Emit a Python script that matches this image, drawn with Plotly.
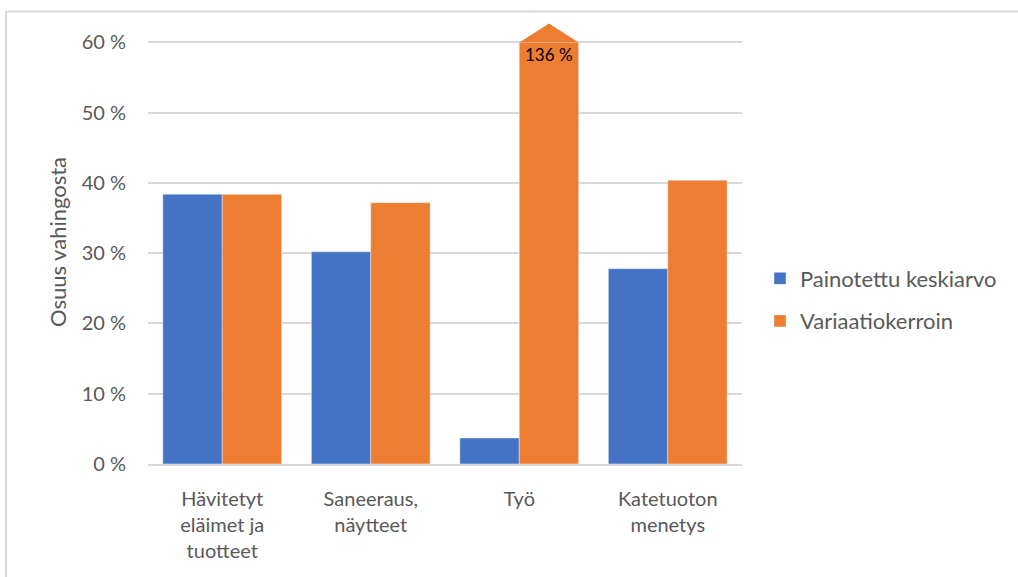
import plotly.graph_objects as go

categories = ["Hävitetyt<br>eläimet ja<br>tuotteet", "Saneeraus,<br>näytteet", "Työ", "Katetuoton<br>menetys"]
weighted_mean = [38.4, 30.2, 3.7, 27.8]
variation_coef = [38.4, 37.2, 136.0, 40.4]
series_names = ["Painotettu keskiarvo", "Variaatiokerroin"]
y_ticks = [0, 10, 20, 30, 40, 50, 60]
y_tick_labels = ["0 %", "10 %", "20 %", "30 %", "40 %", "50 %", "60 %"]

AXIS_CAP = 60.0       # bars beyond this are truncated and shown with an arrow
ARROW_TIP = 62.7
Y_MAX = 63.2

BLUE = "#4472C4"
ORANGE = "#ED7D31"
TEXT = "#595959"
GRID = "#D9D9D9"
FONT = "Lato, 'Open Sans', sans-serif"

W, H = 1018, 577
ML, MR, MT, MB = 148, 276, 20, 113

BARGAP = 0.2
bar_w = (1 - BARGAP) / 2

xs = list(range(len(categories)))
fig = go.Figure()
fig.add_trace(go.Bar(x=xs, y=weighted_mean, name=series_names[0], marker_color=BLUE,
                     legendgroup="a", hoverinfo="x+y"))
fig.add_trace(go.Bar(x=xs, y=[min(v, AXIS_CAP) for v in variation_coef], name=series_names[1],
                     marker_color=ORANGE, legendgroup="b",
                     customdata=variation_coef, hovertemplate="%{customdata} %<extra></extra>"))

# arrow heads for truncated bars
for i, v in enumerate(variation_coef):
    if v > AXIS_CAP:
        x0 = i
        x1 = i + bar_w
        fig.add_trace(go.Scatter(x=[x0, (x0 + x1) / 2, x1, x0], y=[AXIS_CAP, ARROW_TIP, AXIS_CAP, AXIS_CAP],
                                 fill="toself", fillcolor=ORANGE, mode="lines",
                                 line=dict(width=0, color=ORANGE), showlegend=False, hoverinfo="skip"))
        fig.add_annotation(x=(x0 + x1) / 2, y=AXIS_CAP, yanchor="top", yshift=0,
                           text=f"{v:.0f} %", showarrow=False,
                           font=dict(family=FONT, size=17, color="#000000"))

pw = W - ML - MR
ph = H - MT - MB
def px_x(p):
    return (p - ML) / pw
def px_y(p):
    return (H - MB - p) / ph

# outer frame lines (top and left)
fig.add_shape(type="line", xref="paper", yref="paper", x0=px_x(6), x1=px_x(W + 5), y0=px_y(11.5), y1=px_y(11.5),
              line=dict(color=GRID, width=2))
fig.add_shape(type="line", xref="paper", yref="paper", x0=px_x(6), x1=px_x(6), y0=px_y(11.5), y1=px_y(H + 5),
              line=dict(color=GRID, width=2))

fig.update_layout(
    width=W, height=H,
    margin=dict(l=ML, r=MR, t=MT, b=MB),
    paper_bgcolor="white", plot_bgcolor="white",
    barmode="group", bargap=BARGAP, bargroupgap=0,
    font=dict(family=FONT, color=TEXT, size=20),
    showlegend=True,
    legend=dict(x=px_x(760), y=px_y(300), xanchor="left", yanchor="middle",
                font=dict(family=FONT, size=22, color=TEXT),
                traceorder="grouped", tracegroupgap=11, bgcolor="rgba(0,0,0,0)"),
    xaxis=dict(range=[-0.5, len(categories) - 0.5], tickmode="array", tickvals=xs, ticktext=categories,
               showgrid=False, zeroline=False, showline=True, linecolor=GRID, linewidth=1.5,
               ticks="", tickfont=dict(family=FONT, size=20, color=TEXT), ticklabelstandoff=16,
               fixedrange=True),
    yaxis=dict(range=[0, Y_MAX], tickmode="array", tickvals=y_ticks, ticktext=y_tick_labels,
               showgrid=True, gridcolor=GRID, gridwidth=1.5, zeroline=False, showline=False,
               ticks="", tickfont=dict(family=FONT, size=20, color=TEXT), ticklabelstandoff=21,
               title=dict(text="Osuus vahingosta", font=dict(family=FONT, size=22, color=TEXT), standoff=8),
               fixedrange=True),
)

fig.write_html("out.html", config={"displayModeBar": False},
               post_script="document.body.style.margin='0';")
